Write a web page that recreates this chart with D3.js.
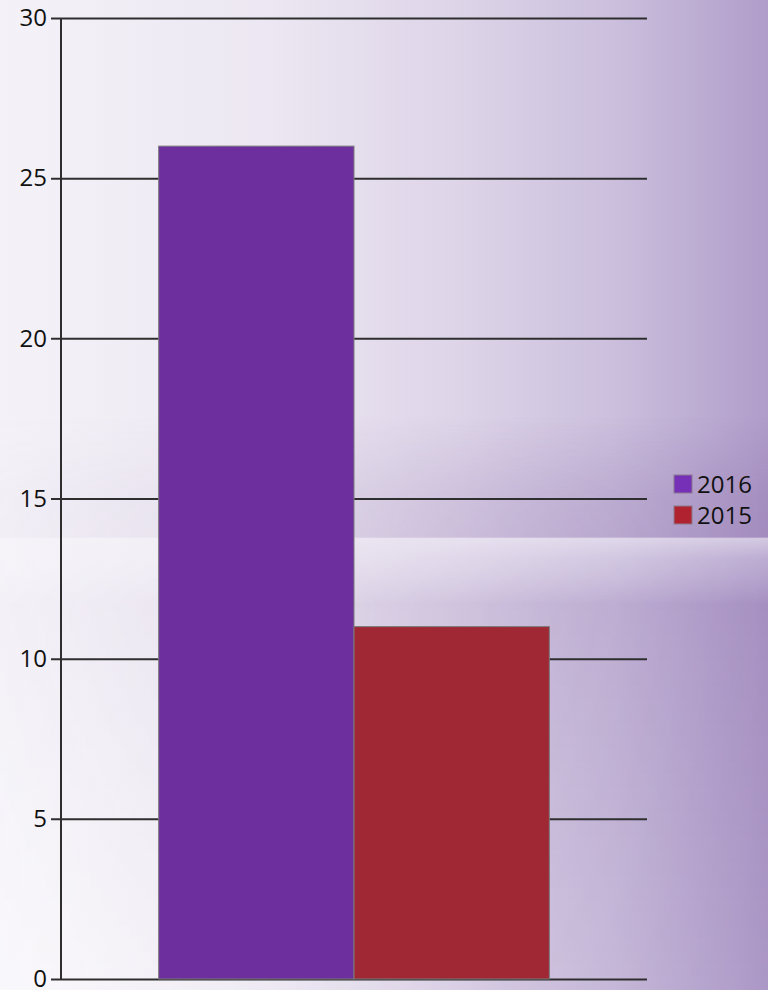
<!DOCTYPE html>
<html>
<head>
<meta charset="utf-8">
<script src="https://cdn.jsdelivr.net/npm/d3@7"></script>
<style>
  body { margin: 0; }
  svg { display: block; font-family: "Open Sans", sans-serif; }
</style>
</head>
<body>
<svg id="chart" width="768" height="990"></svg>
<script>
var categories = ["total"];
var seriesNames = ["2016", "2015"];
var values2016 = [26];
var values2015 = [11];
var yTicks = [0, 5, 10, 15, 20, 25, 30];

var barColors = { "2016": "#6e2f9e", "2015": "#a02835" };
var legendColors = { "2016": "#7630b8", "2015": "#b0222f" };

var width = 768, height = 990;
var margin = { top: 18, right: 121, bottom: 11, left: 61 };

var svg = d3.select("#chart");
var defs = svg.append("defs");

// background: light on the left, purple to the right
var hGrad = defs.append("linearGradient").attr("id", "bgH")
    .attr("x1", 0).attr("y1", 0).attr("x2", 1).attr("y2", 0);
[[0, "#f4f2f8"], [0.35, "#ece7f2"], [0.6, "#ddd4e8"], [0.8, "#cbbfdd"], [1, "#b09dca"]]
    .forEach(function(s) { hGrad.append("stop").attr("offset", s[0]).attr("stop-color", s[1]); });

// glossy band across the middle
var vGrad = defs.append("linearGradient").attr("id", "bgV")
    .attr("x1", 0).attr("y1", 0).attr("x2", 0).attr("y2", 1);
[[0, "#7d5a9e", 0], [0.42, "#7d5a9e", 0], [0.5, "#7d5a9e", 0.22], [0.542, "#7d5a9e", 0.26],
 [0.544, "#ffffff", 0.45], [0.565, "#ffffff", 0.15], [0.61, "#7d5a9e", 0.2], [1, "#7d5a9e", 0.08]]
    .forEach(function(s) {
        vGrad.append("stop").attr("offset", s[0]).attr("stop-color", s[1]).attr("stop-opacity", s[2]);
    });

// band fades out towards the left
var mGrad = defs.append("linearGradient").attr("id", "maskGrad")
    .attr("x1", 0).attr("y1", 0).attr("x2", 1).attr("y2", 0);
[[0, 0.12], [0.3, 0.3], [0.7, 0.8], [1, 1]].forEach(function(s) {
    mGrad.append("stop").attr("offset", s[0]).attr("stop-color", "#fff").attr("stop-opacity", s[1]);
});
defs.append("mask").attr("id", "bandMask")
    .append("rect").attr("width", width).attr("height", height).attr("fill", "url(#maskGrad)");

// bottom-left brightening
var bGrad = defs.append("radialGradient").attr("id", "bgB")
    .attr("cx", 0.05).attr("cy", 1).attr("r", 0.6);
bGrad.append("stop").attr("offset", 0).attr("stop-color", "#fff").attr("stop-opacity", 0.6);
bGrad.append("stop").attr("offset", 1).attr("stop-color", "#fff").attr("stop-opacity", 0);

svg.append("rect").attr("width", width).attr("height", height).attr("fill", "url(#bgH)");
svg.append("rect").attr("width", width).attr("height", height).attr("fill", "url(#bgB)");
svg.append("rect").attr("width", width).attr("height", height).attr("fill", "url(#bgV)")
    .attr("mask", "url(#bandMask)");

var plotW = width - margin.left - margin.right;
var plotH = height - margin.top - margin.bottom;

var g = svg.append("g").attr("transform", "translate(" + margin.left + "," + margin.top + ")");

var x0 = d3.scaleBand().domain(categories).range([0, plotW]).paddingInner(0.2).paddingOuter(0.2);
var x1 = d3.scaleBand().domain(seriesNames).range([0, x0.bandwidth()]);
var y = d3.scaleLinear().domain([0, 30]).range([plotH, 0]);

// grid + ticks
var yAxis = d3.axisLeft(y).tickValues(yTicks).tickSize(-plotW).tickPadding(14);
var ax = g.append("g").call(yAxis);
ax.select(".domain").remove();
ax.selectAll(".tick line").attr("stroke", "#2e2e2e").attr("stroke-width", 2).attr("x1", -10);
ax.selectAll(".tick text").attr("fill", "#111").attr("font-size", 24)
    .attr("font-family", "'Open Sans', sans-serif");

g.append("line").attr("x1", 0).attr("x2", 0).attr("y1", 0).attr("y2", plotH)
    .attr("stroke", "#2e2e2e").attr("stroke-width", 2);

var rows = categories.map(function(c, i) {
    return { category: c, values: [
        { key: "2016", value: values2016[i] },
        { key: "2015", value: values2015[i] }
    ] };
});

var groups = g.selectAll(".group").data(rows).enter().append("g")
    .attr("transform", function(d) { return "translate(" + x0(d.category) + ",0)"; });

groups.selectAll("rect").data(function(d) { return d.values; }).enter().append("rect")
    .attr("x", function(d) { return x1(d.key); })
    .attr("y", function(d) { return y(d.value); })
    .attr("width", x1.bandwidth())
    .attr("height", function(d) { return plotH - y(d.value); })
    .attr("fill", function(d) { return barColors[d.key]; })
    .attr("stroke", "#7a7a7a")
    .attr("stroke-width", 1);

// legend
var legend = svg.append("g").attr("transform", "translate(674,475)");
var items = legend.selectAll("g").data(seriesNames).enter().append("g")
    .attr("transform", function(d, i) { return "translate(0," + (i * 31) + ")"; });
items.append("rect").attr("width", 18).attr("height", 18)
    .attr("fill", function(d) { return legendColors[d]; })
    .attr("stroke", "#8a7a90").attr("stroke-width", 1);
items.append("text").attr("x", 23).attr("y", 9).attr("dy", "0.36em")
    .attr("font-size", 24).attr("fill", "#111")
    .text(function(d) { return d; });
</script>
</body>
</html>
